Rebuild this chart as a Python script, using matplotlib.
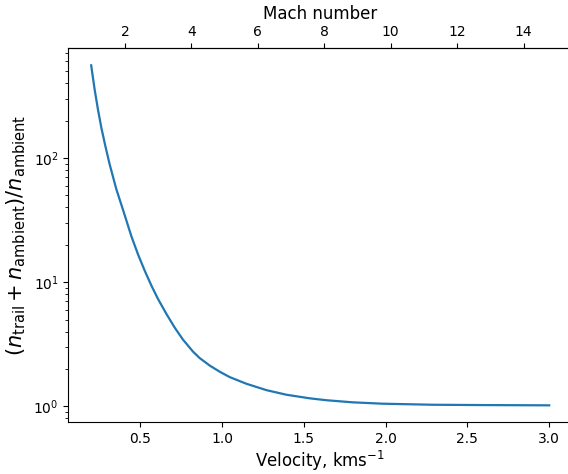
import matplotlib
matplotlib.use("Agg")
import matplotlib.pyplot as plt

# Velocity (km/s) and density ratio
velocity = [0.200, 0.221, 0.241, 0.262, 0.286, 0.313, 0.354, 0.394, 0.415,
            0.446, 0.486, 0.527, 0.568, 0.608, 0.660, 0.711, 0.761, 0.8225,
            0.863, 0.925, 0.986, 1.047, 1.149, 1.272, 1.394, 1.537, 1.639,
            1.800, 1.985, 2.291, 2.597, 3.000]
ratio = [558, 358, 248, 176, 126, 89, 56, 38.5, 31.5,
         23.4, 16.8, 12.4, 9.4, 7.35, 5.55, 4.3, 3.45, 2.76,
         2.45, 2.13, 1.90, 1.72, 1.52, 1.35, 1.24, 1.16, 1.12,
         1.077, 1.05, 1.03, 1.024, 1.019]
sound_speed = 0.2031  # km/s, sets the Mach-number axis
mach_ticks = [2, 4, 6, 8, 10, 12, 14]

fig = plt.figure(figsize=(5.68, 4.74), dpi=100)
ax = fig.add_axes([0.1202, 0.109, 0.887, 0.789])
ax.plot(velocity, ratio, color="#1f77b4", lw=1.6)
ax.set_yscale("log")
ax.set_xlabel(r"Velocity, kms$^{-1}$", fontsize=12, labelpad=2)
ax.set_ylabel(r"$(n_{\rm trail} + n_{\rm ambient})/n_{\rm ambient}$", fontsize=15)
ax.set_xticks([0.5, 1.0, 1.5, 2.0, 2.5, 3.0])

top = ax.secondary_xaxis("top", functions=(lambda v: v / sound_speed,
                                            lambda m: m * sound_speed))
top.set_xticks(mach_ticks)
top.set_xlabel("Mach number", fontsize=12)

fig.savefig("out.png", dpi=100)
